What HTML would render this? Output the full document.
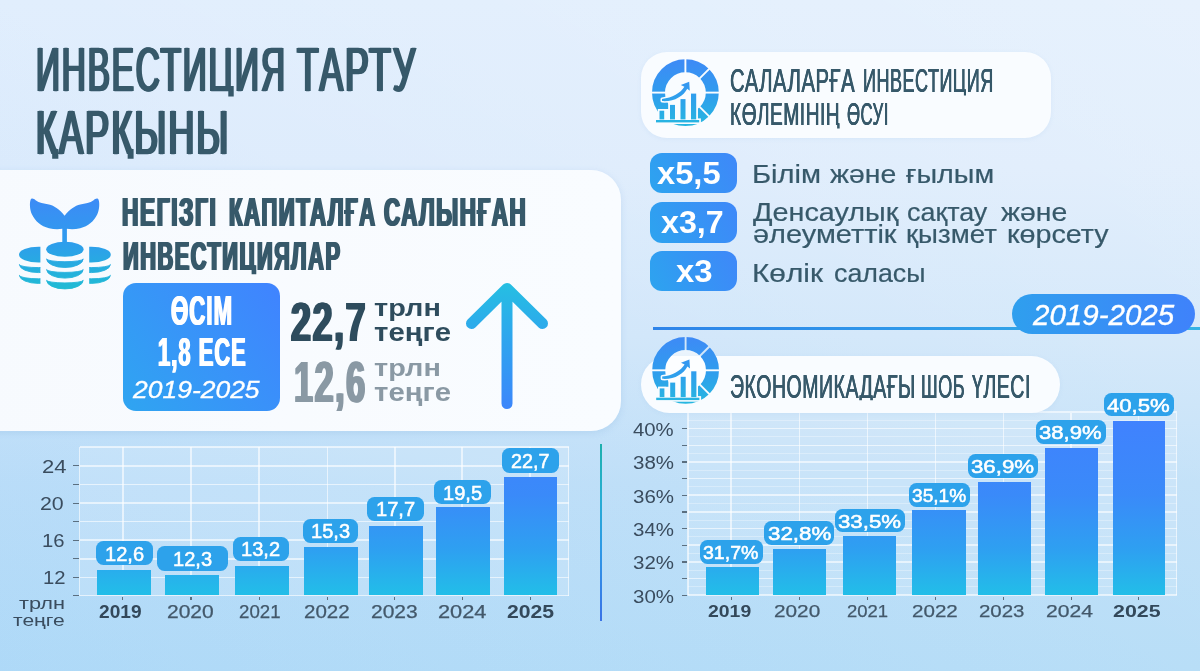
<!DOCTYPE html>
<html><head><meta charset="utf-8"><title>Инвестиция тарту қарқыны</title>
<style>
html,body{margin:0;padding:0}
html{background:#cfe5f9;width:1200px;height:671px;overflow:hidden}
body{width:1200px;height:671px;overflow:hidden;position:relative;font-family:"Liberation Sans",sans-serif;
background:linear-gradient(to top right,rgba(130,195,250,.18) 0%,rgba(130,195,250,0) 50%,rgba(255,255,255,0) 50%,rgba(255,255,255,.2) 100%),linear-gradient(180deg,#e1eefd 0%,#deecfc 25%,#d2e7fa 50%,#c1e0f8 72%,#b8def7 100%);}
.t{position:absolute;white-space:nowrap;line-height:1;transform-origin:0 0;display:block}
.abs{position:absolute}
svg{position:absolute;overflow:visible}
</style></head>
<body>
<span class="t" style="left:35.56px;top:38.10px;font-size:63.37px;letter-spacing:3.6px;-webkit-text-stroke:0.3px #37596a;text-shadow:2.4px 0 0 #37596a,-2.4px 0 0 #37596a;clip-path:inset(-20px -20px 5.07px -20px);color:#37596a;transform:scaleX(0.5248);">ИНВЕСТИЦИЯ</span>
<span class="t" style="left:297.26px;top:38.10px;font-size:63.37px;letter-spacing:3.6px;-webkit-text-stroke:0.3px #37596a;text-shadow:2.4px 0 0 #37596a,-2.4px 0 0 #37596a;clip-path:inset(-20px -20px 5.07px -20px);color:#37596a;transform:scaleX(0.5589);">ТАРТУ</span>
<span class="t" style="left:35.91px;top:102.20px;font-size:62.21px;letter-spacing:3.6px;-webkit-text-stroke:0.3px #37596a;text-shadow:2.4px 0 0 #37596a,-2.4px 0 0 #37596a;clip-path:inset(-20px -20px 5.71px -20px);color:#37596a;transform:scaleX(0.5790);">ҚАРҚЫНЫ</span>
<div class="abs" style="left:-40px;top:170.3px;width:660.5px;height:260.7px;border-radius:30px;background:linear-gradient(90deg,#f7fafe 0%,#f9fcff 100%);box-shadow:0 2px 7px rgba(120,170,220,.22)"></div>
<svg style="left:0;top:0" width="130" height="300" viewBox="0 0 130 300">
<defs>
<linearGradient id="gIcon" gradientUnits="userSpaceOnUse" x1="0" y1="198" x2="0" y2="290"><stop offset="0" stop-color="#3d8bf6"/><stop offset=".45" stop-color="#2f9bee"/><stop offset="1" stop-color="#1fbcd3"/></linearGradient>
<clipPath id="cl"><rect x="0" y="230" width="40.4" height="70"/></clipPath>
<clipPath id="cr"><rect x="89.2" y="230" width="40" height="70"/></clipPath>
</defs>
<path fill="url(#gIcon)" d="M64.6,215.8 C60,209.5 54,205.6 49,204.5 C44,203.4 39,203 35.6,200.2 C34,198.6 31.4,197.6 30.6,199.8 C29.4,203.2 29.8,210 32,214.6 C35,221 41,226.5 49,228.3 C54,229.4 59,229.3 62.3,228.8 L62.3,243 L66.9,243 L66.9,228.8 C70.2,229.3 75.2,229.4 80.2,228.3 C88.2,226.5 94.2,221 97.2,214.6 C99.4,210 99.8,203.2 98.6,199.8 C97.8,197.6 95.2,198.6 93.6,200.2 C90.2,203 85.2,203.4 80.2,204.5 C75.2,205.6 69.2,209.5 64.6,215.8 Z"/>
<g><ellipse cx="64.9" cy="249.3" rx="18.7" ry="7.5" fill="url(#gIcon)"/><path fill="url(#gIcon)" stroke="url(#gIcon)" stroke-width="0.9" stroke-linejoin="round" d="M46.6,258.9 A18.3,2.80 0 0 0 83.2,258.9 A18.3,8.60 0 0 1 46.6,258.9 Z"/><path fill="url(#gIcon)" stroke="url(#gIcon)" stroke-width="0.9" stroke-linejoin="round" d="M46.6,269.5 A18.3,2.90 0 0 0 83.2,269.5 A18.3,8.60 0 0 1 46.6,269.5 Z"/><path fill="url(#gIcon)" stroke="url(#gIcon)" stroke-width="0.9" stroke-linejoin="round" d="M46.6,280.3 A18.3,2.60 0 0 0 83.2,280.3 A18.3,8.60 0 0 1 46.6,280.3 Z"/></g>
<g clip-path="url(#cl)"><ellipse cx="38.5" cy="254.7" rx="19.5" ry="7.9" fill="url(#gIcon)"/><path fill="url(#gIcon)" stroke="url(#gIcon)" stroke-width="0.9" stroke-linejoin="round" d="M19.4,264.5 A19.1,3.10 0 0 0 57.6,264.5 A19.1,8.10 0 0 1 19.4,264.5 Z"/><path fill="url(#gIcon)" stroke="url(#gIcon)" stroke-width="0.9" stroke-linejoin="round" d="M19.4,275.3 A19.1,3.50 0 0 0 57.6,275.3 A19.1,8.10 0 0 1 19.4,275.3 Z"/></g>
<g clip-path="url(#cr)"><ellipse cx="91.3" cy="254.7" rx="19.5" ry="7.9" fill="url(#gIcon)"/><path fill="url(#gIcon)" stroke="url(#gIcon)" stroke-width="0.9" stroke-linejoin="round" d="M72.2,264.5 A19.1,3.10 0 0 0 110.39999999999999,264.5 A19.1,8.10 0 0 1 72.2,264.5 Z"/><path fill="url(#gIcon)" stroke="url(#gIcon)" stroke-width="0.9" stroke-linejoin="round" d="M72.2,275.3 A19.1,3.50 0 0 0 110.39999999999999,275.3 A19.1,8.10 0 0 1 72.2,275.3 Z"/></g>
</svg>
<span class="t" style="left:122.44px;top:192.40px;font-size:40.41px;font-weight:700;letter-spacing:2.8px;text-shadow:1.8px 0 0 #37596a,-1.8px 0 0 #37596a;color:#37596a;transform:scaleX(0.5629);">НЕГІЗГІ</span>
<span class="t" style="left:229.45px;top:192.40px;font-size:40.41px;font-weight:700;letter-spacing:2.8px;text-shadow:1.8px 0 0 #37596a,-1.8px 0 0 #37596a;color:#37596a;transform:scaleX(0.5494);">КАПИТАЛҒА</span>
<span class="t" style="left:384.34px;top:192.40px;font-size:40.41px;font-weight:700;letter-spacing:2.8px;text-shadow:1.8px 0 0 #37596a,-1.8px 0 0 #37596a;color:#37596a;transform:scaleX(0.5536);">САЛЫНҒАН</span>
<span class="t" style="left:122.59px;top:236.50px;font-size:40.26px;font-weight:700;letter-spacing:2.8px;text-shadow:1.8px 0 0 #37596a,-1.8px 0 0 #37596a;clip-path:inset(-20px -20px 2.46px -20px);color:#37596a;transform:scaleX(0.5417);">ИНВЕСТИЦИЯЛАР</span>
<div class="abs" style="left:123.4px;top:282.5px;width:156.8px;height:128px;border-radius:13px;background:linear-gradient(52deg,#2fa5f1 0%,#3894f8 50%,#4083ff 100%)"></div>
<span class="t" style="left:170.74px;top:290.00px;font-size:42.15px;font-weight:700;letter-spacing:2px;text-shadow:1.3px 0 0 #fff,-1.3px 0 0 #fff;color:#fff;transform:scaleX(0.5263);">ӨСІМ</span>
<span class="t" style="left:158.34px;top:332.00px;font-size:41.42px;font-weight:700;letter-spacing:2px;text-shadow:1.3px 0 0 #fff,-1.3px 0 0 #fff;color:#fff;transform:scaleX(0.5281);">1,8 ЕСЕ</span>
<span class="t" style="left:133.27px;top:377.55px;font-size:24.75px;font-style:italic;-webkit-text-stroke:0.35px #fff;color:#fff;transform:scaleX(1.0695);">2019-2025</span>
<span class="t" style="left:290.84px;top:293.80px;font-size:55.9px;font-weight:700;letter-spacing:2.6px;text-shadow:1.8px 0 0 #2e4c5d,-1.8px 0 0 #2e4c5d;color:#2e4c5d;transform:scaleX(0.6393);">22,7</span>
<span class="t" style="left:293.95px;top:355.40px;font-size:56.76px;font-weight:700;letter-spacing:2.6px;text-shadow:1.8px 0 0 #8a99a4,-1.8px 0 0 #8a99a4;color:#8a99a4;transform:scaleX(0.6022);">12,6</span>
<span class="t" style="left:374.12px;top:296.20px;font-size:24.47px;font-weight:700;color:#2e4c5d;transform:scaleX(1.1797);">трлн</span>
<span class="t" style="left:374.12px;top:320.00px;font-size:25.05px;font-weight:700;color:#2e4c5d;transform:scaleX(1.1719);">теңге</span>
<span class="t" style="left:374.12px;top:355.70px;font-size:24.47px;font-weight:700;color:#8a99a4;transform:scaleX(1.1797);">трлн</span>
<span class="t" style="left:374.12px;top:380.00px;font-size:25.05px;font-weight:700;color:#8a99a4;transform:scaleX(1.1719);">теңге</span>
<svg style="left:0;top:0" width="620" height="440" viewBox="0 0 620 440"><defs><linearGradient id="gArr" gradientUnits="userSpaceOnUse" x1="0" y1="283" x2="0" y2="409"><stop offset="0" stop-color="#25bfe2"/><stop offset=".45" stop-color="#2fa5ee"/><stop offset="1" stop-color="#3c86fb"/></linearGradient></defs>
<path d="M507,403.5 L507,289 M471.5,323.5 L507,288.5 L542.5,323.5" fill="none" stroke="url(#gArr)" stroke-width="11" stroke-linecap="round" stroke-linejoin="round"/></svg>
<div class="abs" style="left:79.5px;top:447.2px;width:489.0px;height:148.40000000000003px;background:rgba(255,255,255,.13)"></div><div class="abs" style="left:79.5px;top:446.45px;width:489.0px;height:1.5px;background:rgba(255,255,255,.6)"></div><div class="abs" style="left:79.5px;top:465.05px;width:489.0px;height:1.5px;background:rgba(255,255,255,.6)"></div><div class="abs" style="left:73px;top:465.30px;width:5.5px;height:1.2px;background:#5b6f80"></div><div class="abs" style="left:79.5px;top:483.65px;width:489.0px;height:1.5px;background:rgba(255,255,255,.6)"></div><div class="abs" style="left:73px;top:483.90px;width:5.5px;height:1.2px;background:#5b6f80"></div><div class="abs" style="left:79.5px;top:502.25px;width:489.0px;height:1.5px;background:rgba(255,255,255,.6)"></div><div class="abs" style="left:73px;top:502.50px;width:5.5px;height:1.2px;background:#5b6f80"></div><div class="abs" style="left:79.5px;top:520.85px;width:489.0px;height:1.5px;background:rgba(255,255,255,.6)"></div><div class="abs" style="left:73px;top:521.10px;width:5.5px;height:1.2px;background:#5b6f80"></div><div class="abs" style="left:79.5px;top:539.45px;width:489.0px;height:1.5px;background:rgba(255,255,255,.6)"></div><div class="abs" style="left:73px;top:539.70px;width:5.5px;height:1.2px;background:#5b6f80"></div><div class="abs" style="left:79.5px;top:558.05px;width:489.0px;height:1.5px;background:rgba(255,255,255,.6)"></div><div class="abs" style="left:73px;top:558.30px;width:5.5px;height:1.2px;background:#5b6f80"></div><div class="abs" style="left:79.5px;top:576.65px;width:489.0px;height:1.5px;background:rgba(255,255,255,.6)"></div><div class="abs" style="left:73px;top:576.90px;width:5.5px;height:1.2px;background:#5b6f80"></div><div class="abs" style="left:79.5px;top:594.85px;width:489.0px;height:1.5px;background:rgba(255,255,255,.6)"></div><div class="abs" style="left:73px;top:595.10px;width:5.5px;height:1.2px;background:#5b6f80"></div><div class="abs" style="left:78.75px;top:447.2px;width:1.5px;height:148.40000000000003px;background:rgba(255,255,255,.6)"></div><div class="abs" style="left:122.05px;top:447.2px;width:1.5px;height:148.40000000000003px;background:rgba(255,255,255,.6)"></div><div class="abs" style="left:122.20px;top:596.6px;width:1.2px;height:3.3px;background:#5b6f80"></div><div class="abs" style="left:190.25px;top:447.2px;width:1.5px;height:148.40000000000003px;background:rgba(255,255,255,.6)"></div><div class="abs" style="left:190.40px;top:596.6px;width:1.2px;height:3.3px;background:#5b6f80"></div><div class="abs" style="left:258.45px;top:447.2px;width:1.5px;height:148.40000000000003px;background:rgba(255,255,255,.6)"></div><div class="abs" style="left:258.60px;top:596.6px;width:1.2px;height:3.3px;background:#5b6f80"></div><div class="abs" style="left:326.85px;top:447.2px;width:1.5px;height:148.40000000000003px;background:rgba(255,255,255,.6)"></div><div class="abs" style="left:327.00px;top:596.6px;width:1.2px;height:3.3px;background:#5b6f80"></div><div class="abs" style="left:394.05px;top:447.2px;width:1.5px;height:148.40000000000003px;background:rgba(255,255,255,.6)"></div><div class="abs" style="left:394.20px;top:596.6px;width:1.2px;height:3.3px;background:#5b6f80"></div><div class="abs" style="left:461.45px;top:447.2px;width:1.5px;height:148.40000000000003px;background:rgba(255,255,255,.6)"></div><div class="abs" style="left:461.60px;top:596.6px;width:1.2px;height:3.3px;background:#5b6f80"></div><div class="abs" style="left:529.45px;top:447.2px;width:1.5px;height:148.40000000000003px;background:rgba(255,255,255,.6)"></div><div class="abs" style="left:529.60px;top:596.6px;width:1.2px;height:3.3px;background:#5b6f80"></div><div class="abs" style="left:567.75px;top:447.2px;width:1.5px;height:148.40000000000003px;background:rgba(255,255,255,.6)"></div><div class="abs" style="left:97.3px;top:569.5px;width:54.00px;height:25.90px;background:linear-gradient(to top,#22bee8 0px,#2ea0f1 45px,#3a8af9 100px,#4082fe 175px)"></div><div class="abs" style="left:164.5px;top:574.5px;width:54.00px;height:20.90px;background:linear-gradient(to top,#22bee8 0px,#2ea0f1 45px,#3a8af9 100px,#4082fe 175px)"></div><div class="abs" style="left:234.5px;top:565.8px;width:54.10px;height:29.60px;background:linear-gradient(to top,#22bee8 0px,#2ea0f1 45px,#3a8af9 100px,#4082fe 175px)"></div><div class="abs" style="left:304px;top:547px;width:53.60px;height:48.40px;background:linear-gradient(to top,#22bee8 0px,#2ea0f1 45px,#3a8af9 100px,#4082fe 175px)"></div><div class="abs" style="left:369px;top:525.5px;width:53.60px;height:69.90px;background:linear-gradient(to top,#22bee8 0px,#2ea0f1 45px,#3a8af9 100px,#4082fe 175px)"></div><div class="abs" style="left:436.4px;top:507px;width:53.40px;height:88.40px;background:linear-gradient(to top,#22bee8 0px,#2ea0f1 45px,#3a8af9 100px,#4082fe 175px)"></div><div class="abs" style="left:504.4px;top:477px;width:53.00px;height:118.40px;background:linear-gradient(to top,#22bee8 0px,#2ea0f1 45px,#3a8af9 100px,#4082fe 175px)"></div>
<span class="t" style="left:41.83px;top:457.50px;font-size:18.78px;color:#3a4c5e;transform:scaleX(1.1740);">24</span>
<span class="t" style="left:40.46px;top:494.70px;font-size:18.78px;color:#3a4c5e;transform:scaleX(1.1377);">20</span>
<span class="t" style="left:41.80px;top:531.90px;font-size:18.78px;color:#3a4c5e;transform:scaleX(1.0800);">16</span>
<span class="t" style="left:42.80px;top:569.10px;font-size:18.78px;color:#3a4c5e;transform:scaleX(1.0800);">12</span>
<span class="t" style="left:19.27px;top:595.60px;font-size:16.57px;color:#3a4c5e;transform:scaleX(1.3134);">трлн</span>
<span class="t" style="left:12.90px;top:611.60px;font-size:17.34px;color:#3a4c5e;transform:scaleX(1.2145);">теңге</span>
<div class="abs" style="left:96.2px;top:541px;width:56.60px;height:24.40px;border-radius:7.5px;background:#2da2eb"></div>
<span class="t" style="left:104.68px;top:543.55px;font-size:20.63px;-webkit-text-stroke:0.55px #fff;color:#fff;transform:scaleX(0.9725);">12,6</span>
<div class="abs" style="left:157.3px;top:546.1px;width:70.70px;height:24.50px;border-radius:7.5px;background:#2da2eb"></div>
<span class="t" style="left:172.83px;top:548.65px;font-size:20.63px;-webkit-text-stroke:0.55px #fff;color:#fff;transform:scaleX(0.9725);">12,3</span>
<div class="abs" style="left:232.6px;top:536.9px;width:56.80px;height:24.40px;border-radius:7.5px;background:#2da2eb"></div>
<span class="t" style="left:241.18px;top:539.45px;font-size:20.63px;-webkit-text-stroke:0.55px #fff;color:#fff;transform:scaleX(0.9725);">13,2</span>
<div class="abs" style="left:302.7px;top:518.7px;width:55.80px;height:24.10px;border-radius:7.5px;background:#2da2eb"></div>
<span class="t" style="left:310.78px;top:521.25px;font-size:20.63px;-webkit-text-stroke:0.55px #fff;color:#fff;transform:scaleX(0.9725);">15,3</span>
<div class="abs" style="left:367.3px;top:496.6px;width:57.20px;height:24.60px;border-radius:7.5px;background:#2da2eb"></div>
<span class="t" style="left:376.08px;top:499.15px;font-size:20.63px;-webkit-text-stroke:0.55px #fff;color:#fff;transform:scaleX(0.9725);">17,7</span>
<div class="abs" style="left:434.4px;top:480.4px;width:56.60px;height:24.10px;border-radius:7.5px;background:#2da2eb"></div>
<span class="t" style="left:442.88px;top:482.95px;font-size:20.63px;-webkit-text-stroke:0.55px #fff;color:#fff;transform:scaleX(0.9725);">19,5</span>
<div class="abs" style="left:502.4px;top:448.4px;width:56.60px;height:24.60px;border-radius:7.5px;background:#2da2eb"></div>
<span class="t" style="left:511.38px;top:450.95px;font-size:20.63px;-webkit-text-stroke:0.55px #fff;color:#fff;transform:scaleX(0.9600);">22,7</span>
<span class="t" style="left:99.45px;top:603.60px;font-size:17.5px;font-weight:700;color:#33485a;transform:scaleX(1.0940);">2019</span>
<span class="t" style="left:166.60px;top:603.60px;font-size:17.5px;-webkit-text-stroke:0.25px #43586a;color:#43586a;transform:scaleX(1.2000);">2020</span>
<span class="t" style="left:239.20px;top:603.60px;font-size:17.5px;-webkit-text-stroke:0.25px #43586a;color:#43586a;transform:scaleX(1.0667);">2021</span>
<span class="t" style="left:304.12px;top:603.60px;font-size:17.5px;-webkit-text-stroke:0.25px #43586a;color:#43586a;transform:scaleX(1.1733);">2022</span>
<span class="t" style="left:371.10px;top:603.60px;font-size:17.5px;-webkit-text-stroke:0.25px #43586a;color:#43586a;transform:scaleX(1.2000);">2023</span>
<span class="t" style="left:438.07px;top:603.60px;font-size:17.5px;-webkit-text-stroke:0.25px #43586a;color:#43586a;transform:scaleX(1.2450);">2024</span>
<span class="t" style="left:507.39px;top:603.60px;font-size:17.5px;font-weight:700;color:#33485a;transform:scaleX(1.2105);">2025</span>
<div class="abs" style="left:600.1px;top:444px;width:2px;height:177px;background:linear-gradient(180deg,#1eb0ad 0%,#27aed2 30%,#2e98e6 60%,#3b72e6 100%)"></div>
<div class="abs" style="left:641px;top:51.5px;width:410px;height:86px;border-radius:26px;background:#f9fcff;box-shadow:0 1px 4px rgba(150,190,230,.15)"></div>
<svg style="left:0;top:0" width="1200" height="671" viewBox="0 0 1200 671"><defs><linearGradient id="gDa" gradientUnits="userSpaceOnUse" x1="0" y1="59.199999999999996" x2="0" y2="126.0"><stop offset="0" stop-color="#3e8af6"/><stop offset=".5" stop-color="#309cee"/><stop offset="1" stop-color="#27b7e0"/></linearGradient><mask id="mDa" maskUnits="userSpaceOnUse" x="645.4" y="52.599999999999994" width="80" height="80"><rect x="645.4" y="52.599999999999994" width="80" height="80" fill="#fff"/><line x1="685.40" y1="74.20" x2="685.40" y2="57.20" stroke="#000" stroke-width="1.9"/><line x1="698.41" y1="79.59" x2="710.43" y2="67.57" stroke="#000" stroke-width="1.9"/><line x1="703.80" y1="92.60" x2="720.80" y2="92.60" stroke="#000" stroke-width="1.9"/><line x1="698.41" y1="105.61" x2="710.43" y2="117.63" stroke="#000" stroke-width="1.9"/><line x1="667.00" y1="92.60" x2="650.00" y2="92.60" stroke="#000" stroke-width="1.9"/><rect x="657.90" y="109.10" width="7.90" height="11.90" fill="#000"/><rect x="668.40" y="103.30" width="8.20" height="17.70" fill="#000"/><rect x="678.90" y="97.50" width="8.20" height="23.50" fill="#000"/><rect x="689.40" y="92.00" width="8.40" height="29.00" fill="#000"/><rect x="654.40" y="118.40" width="46.5" height="5.6" fill="#000"/><polygon fill="#000" points="657.90,121.40 657.90,109.10 668.40,109.10 668.40,103.30 678.90,103.30 678.90,97.50 689.40,97.50 689.40,92.00 697.80,92.00 697.80,121.40"/><path d="M662.00,98.90 C672.40,98.00 680.40,93.10 684.40,86.80 L680.80,85.00 L689.20,81.80 L689.80,90.80 L687.20,88.70 C683.40,96.20 673.90,102.00 662.00,101.10 Z" fill="#000" stroke="#000" stroke-width="3" stroke-linejoin="round"/></mask></defs><circle cx="685.4" cy="92.6" r="26.9" fill="none" stroke="url(#gDa)" stroke-width="13.0" mask="url(#mDa)"/><rect x="659.50" y="110.70" width="4.70" height="8.70" fill="url(#gDa)"/><rect x="670.00" y="104.90" width="5.00" height="14.50" fill="url(#gDa)"/><rect x="680.50" y="99.10" width="5.00" height="20.30" fill="url(#gDa)"/><rect x="691.00" y="93.60" width="5.20" height="25.80" fill="url(#gDa)"/><rect x="656.00" y="120.00" width="43.2" height="2.4" fill="url(#gDa)"/><path d="M662.00,98.90 C672.40,98.00 680.40,93.10 684.40,86.80 L680.80,85.00 L689.20,81.80 L689.80,90.80 L687.20,88.70 C683.40,96.20 673.90,102.00 662.00,101.10 Z" fill="url(#gDa)"/></svg>
<span class="t" style="left:730.42px;top:64.90px;font-size:32.56px;letter-spacing:0.9px;-webkit-text-stroke:0.2px #37596a;text-shadow:0.45px 0 0 #37596a,-0.45px 0 0 #37596a;clip-path:inset(-20px -20px 2.06px -20px);color:#37596a;transform:scaleX(0.6221);">САЛАЛАРҒА</span>
<span class="t" style="left:862.95px;top:64.90px;font-size:32.56px;letter-spacing:0.9px;-webkit-text-stroke:0.2px #37596a;text-shadow:0.45px 0 0 #37596a,-0.45px 0 0 #37596a;clip-path:inset(-20px -20px 2.06px -20px);color:#37596a;transform:scaleX(0.5536);">ИНВЕСТИЦИЯ</span>
<span class="t" style="left:729.87px;top:98.00px;font-size:32.27px;letter-spacing:0.9px;-webkit-text-stroke:0.2px #37596a;text-shadow:0.45px 0 0 #37596a,-0.45px 0 0 #37596a;clip-path:inset(-20px -20px 1.77px -20px);color:#37596a;transform:scaleX(0.5918);">КӨЛЕМІНІҢ</span>
<span class="t" style="left:846.68px;top:98.00px;font-size:32.27px;letter-spacing:0.9px;-webkit-text-stroke:0.2px #37596a;text-shadow:0.45px 0 0 #37596a,-0.45px 0 0 #37596a;clip-path:inset(-20px -20px 1.77px -20px);color:#37596a;transform:scaleX(0.5211);">ӨСУІ</span>
<div class="abs" style="left:650px;top:153px;width:87px;height:40px;border-radius:12px;background:linear-gradient(65deg,#2da4ef 0%,#3595f4 50%,#3f88f9 100%)"></div>
<span class="t" style="left:657.24px;top:158.30px;font-size:31.01px;font-weight:700;color:#fff;transform:scaleX(1.0549);">x5,5</span>
<div class="abs" style="left:650px;top:202px;width:87px;height:40.5px;border-radius:12px;background:linear-gradient(65deg,#2da4ef 0%,#3595f4 50%,#3f88f9 100%)"></div>
<span class="t" style="left:661.24px;top:207.30px;font-size:31.01px;font-weight:700;color:#fff;transform:scaleX(1.0383);">x3,7</span>
<div class="abs" style="left:650px;top:250.5px;width:87px;height:40.5px;border-radius:12px;background:linear-gradient(65deg,#2da4ef 0%,#3595f4 50%,#3f88f9 100%)"></div>
<span class="t" style="left:675.73px;top:255.80px;font-size:31.01px;font-weight:700;color:#fff;transform:scaleX(1.0606);">x3</span>
<span class="t" style="left:751.95px;top:161.60px;font-size:25.9px;-webkit-text-stroke:0.2px #37596a;color:#37596a;transform:scaleX(1.1255);">Білім</span>
<span class="t" style="left:830.20px;top:161.60px;font-size:25.9px;-webkit-text-stroke:0.2px #37596a;color:#37596a;transform:scaleX(1.0970);">және</span>
<span class="t" style="left:905.92px;top:161.60px;font-size:25.9px;-webkit-text-stroke:0.2px #37596a;color:#37596a;transform:scaleX(1.1087);">ғылым</span>
<span class="t" style="left:752.70px;top:200.20px;font-size:25.9px;-webkit-text-stroke:0.2px #37596a;color:#37596a;transform:scaleX(1.1115);">Денсаулық</span>
<span class="t" style="left:906.76px;top:200.20px;font-size:25.9px;-webkit-text-stroke:0.2px #37596a;color:#37596a;transform:scaleX(1.0387);">сақтау</span>
<span class="t" style="left:1001.20px;top:200.20px;font-size:25.9px;-webkit-text-stroke:0.2px #37596a;color:#37596a;transform:scaleX(1.0970);">және</span>
<span class="t" style="left:753.08px;top:221.60px;font-size:25.9px;-webkit-text-stroke:0.2px #37596a;color:#37596a;transform:scaleX(1.1176);">әлеуметтік</span>
<span class="t" style="left:905.93px;top:221.60px;font-size:25.9px;-webkit-text-stroke:0.2px #37596a;color:#37596a;transform:scaleX(1.0687);">қызмет</span>
<span class="t" style="left:1007.26px;top:221.60px;font-size:25.9px;-webkit-text-stroke:0.2px #37596a;color:#37596a;transform:scaleX(1.1078);">көрсету</span>
<span class="t" style="left:751.90px;top:260.70px;font-size:25.9px;-webkit-text-stroke:0.2px #37596a;color:#37596a;transform:scaleX(1.1515);">Көлік</span>
<span class="t" style="left:833.97px;top:260.70px;font-size:25.9px;-webkit-text-stroke:0.2px #37596a;color:#37596a;transform:scaleX(1.0344);">саласы</span>
<div class="abs" style="left:652.5px;top:327.3px;width:548px;height:2.5px;background:linear-gradient(90deg,#2f84e9 0%,#2f98ea 45%,#36b3e4 100%)"></div>
<div class="abs" style="left:1011.7px;top:293.7px;width:183.5px;height:40px;border-radius:20px;background:linear-gradient(90deg,#2f9fee 0%,#3f82fb 100%)"></div>
<span class="t" style="left:1032.96px;top:301.05px;font-size:28.59px;font-style:italic;-webkit-text-stroke:0.35px #fff;color:#fff;transform:scaleX(1.0332);">2019-2025</span>
<div class="abs" style="left:688px;top:412.7px;width:488.70000000000005px;height:182.7px;background:rgba(255,255,255,.13)"></div><div class="abs" style="left:688px;top:586.37px;width:488.70000000000005px;height:1px;background:rgba(255,255,255,.3)"></div><div class="abs" style="left:688px;top:569.71px;width:488.70000000000005px;height:1px;background:rgba(255,255,255,.3)"></div><div class="abs" style="left:688px;top:553.05px;width:488.70000000000005px;height:1px;background:rgba(255,255,255,.3)"></div><div class="abs" style="left:688px;top:536.39px;width:488.70000000000005px;height:1px;background:rgba(255,255,255,.3)"></div><div class="abs" style="left:688px;top:519.73px;width:488.70000000000005px;height:1px;background:rgba(255,255,255,.3)"></div><div class="abs" style="left:688px;top:503.07px;width:488.70000000000005px;height:1px;background:rgba(255,255,255,.3)"></div><div class="abs" style="left:688px;top:486.41px;width:488.70000000000005px;height:1px;background:rgba(255,255,255,.3)"></div><div class="abs" style="left:688px;top:469.75px;width:488.70000000000005px;height:1px;background:rgba(255,255,255,.3)"></div><div class="abs" style="left:688px;top:453.09px;width:488.70000000000005px;height:1px;background:rgba(255,255,255,.3)"></div><div class="abs" style="left:688px;top:436.43px;width:488.70000000000005px;height:1px;background:rgba(255,255,255,.3)"></div><div class="abs" style="left:688px;top:419.77px;width:488.70000000000005px;height:1px;background:rgba(255,255,255,.3)"></div><div class="abs" style="left:688px;top:594.45px;width:488.70000000000005px;height:1.5px;background:rgba(255,255,255,.6)"></div><div class="abs" style="left:682.3px;top:594.70px;width:4.7000000000000455px;height:1.2px;background:#5b6f80"></div><div class="abs" style="left:688px;top:577.79px;width:488.70000000000005px;height:1.5px;background:rgba(255,255,255,.6)"></div><div class="abs" style="left:682.3px;top:578.04px;width:4.7000000000000455px;height:1.2px;background:#5b6f80"></div><div class="abs" style="left:688px;top:561.13px;width:488.70000000000005px;height:1.5px;background:rgba(255,255,255,.6)"></div><div class="abs" style="left:682.3px;top:561.38px;width:4.7000000000000455px;height:1.2px;background:#5b6f80"></div><div class="abs" style="left:688px;top:544.47px;width:488.70000000000005px;height:1.5px;background:rgba(255,255,255,.6)"></div><div class="abs" style="left:682.3px;top:544.72px;width:4.7000000000000455px;height:1.2px;background:#5b6f80"></div><div class="abs" style="left:688px;top:527.81px;width:488.70000000000005px;height:1.5px;background:rgba(255,255,255,.6)"></div><div class="abs" style="left:682.3px;top:528.06px;width:4.7000000000000455px;height:1.2px;background:#5b6f80"></div><div class="abs" style="left:688px;top:511.15px;width:488.70000000000005px;height:1.5px;background:rgba(255,255,255,.6)"></div><div class="abs" style="left:682.3px;top:511.40px;width:4.7000000000000455px;height:1.2px;background:#5b6f80"></div><div class="abs" style="left:688px;top:494.49px;width:488.70000000000005px;height:1.5px;background:rgba(255,255,255,.6)"></div><div class="abs" style="left:682.3px;top:494.74px;width:4.7000000000000455px;height:1.2px;background:#5b6f80"></div><div class="abs" style="left:688px;top:477.83px;width:488.70000000000005px;height:1.5px;background:rgba(255,255,255,.6)"></div><div class="abs" style="left:682.3px;top:478.08px;width:4.7000000000000455px;height:1.2px;background:#5b6f80"></div><div class="abs" style="left:688px;top:461.17px;width:488.70000000000005px;height:1.5px;background:rgba(255,255,255,.6)"></div><div class="abs" style="left:682.3px;top:461.42px;width:4.7000000000000455px;height:1.2px;background:#5b6f80"></div><div class="abs" style="left:688px;top:444.51px;width:488.70000000000005px;height:1.5px;background:rgba(255,255,255,.6)"></div><div class="abs" style="left:682.3px;top:444.76px;width:4.7000000000000455px;height:1.2px;background:#5b6f80"></div><div class="abs" style="left:688px;top:427.85px;width:488.70000000000005px;height:1.5px;background:rgba(255,255,255,.6)"></div><div class="abs" style="left:682.3px;top:428.10px;width:4.7000000000000455px;height:1.2px;background:#5b6f80"></div><div class="abs" style="left:688px;top:411.19px;width:488.70000000000005px;height:1.5px;background:rgba(255,255,255,.6)"></div><div class="abs" style="left:687.25px;top:412.7px;width:1.5px;height:182.7px;background:rgba(255,255,255,.6)"></div><div class="abs" style="left:730.45px;top:412.7px;width:1.5px;height:182.7px;background:rgba(255,255,255,.6)"></div><div class="abs" style="left:730.60px;top:596.5px;width:1.2px;height:3.3px;background:#5b6f80"></div><div class="abs" style="left:798.75px;top:412.7px;width:1.5px;height:182.7px;background:rgba(255,255,255,.6)"></div><div class="abs" style="left:798.90px;top:596.5px;width:1.2px;height:3.3px;background:#5b6f80"></div><div class="abs" style="left:866.75px;top:412.7px;width:1.5px;height:182.7px;background:rgba(255,255,255,.6)"></div><div class="abs" style="left:866.90px;top:596.5px;width:1.2px;height:3.3px;background:#5b6f80"></div><div class="abs" style="left:934.75px;top:412.7px;width:1.5px;height:182.7px;background:rgba(255,255,255,.6)"></div><div class="abs" style="left:934.90px;top:596.5px;width:1.2px;height:3.3px;background:#5b6f80"></div><div class="abs" style="left:1002.75px;top:412.7px;width:1.5px;height:182.7px;background:rgba(255,255,255,.6)"></div><div class="abs" style="left:1002.90px;top:596.5px;width:1.2px;height:3.3px;background:#5b6f80"></div><div class="abs" style="left:1070.45px;top:412.7px;width:1.5px;height:182.7px;background:rgba(255,255,255,.6)"></div><div class="abs" style="left:1070.60px;top:596.5px;width:1.2px;height:3.3px;background:#5b6f80"></div><div class="abs" style="left:1137.95px;top:412.7px;width:1.5px;height:182.7px;background:rgba(255,255,255,.6)"></div><div class="abs" style="left:1138.10px;top:596.5px;width:1.2px;height:3.3px;background:#5b6f80"></div><div class="abs" style="left:1175.95px;top:412.7px;width:1.5px;height:182.7px;background:rgba(255,255,255,.6)"></div><div class="abs" style="left:705.7px;top:567px;width:53.60px;height:28.30px;background:linear-gradient(to top,#22bee8 0px,#2ea0f1 45px,#3a8af9 100px,#4082fe 175px)"></div><div class="abs" style="left:772.5px;top:548.8px;width:53.70px;height:46.50px;background:linear-gradient(to top,#22bee8 0px,#2ea0f1 45px,#3a8af9 100px,#4082fe 175px)"></div><div class="abs" style="left:843px;top:536.3px;width:53.30px;height:59.00px;background:linear-gradient(to top,#22bee8 0px,#2ea0f1 45px,#3a8af9 100px,#4082fe 175px)"></div><div class="abs" style="left:912px;top:510px;width:53.70px;height:85.30px;background:linear-gradient(to top,#22bee8 0px,#2ea0f1 45px,#3a8af9 100px,#4082fe 175px)"></div><div class="abs" style="left:978px;top:482px;width:52.50px;height:113.30px;background:linear-gradient(to top,#22bee8 0px,#2ea0f1 45px,#3a8af9 100px,#4082fe 175px)"></div><div class="abs" style="left:1044.5px;top:448px;width:53.50px;height:147.30px;background:linear-gradient(to top,#22bee8 0px,#2ea0f1 45px,#3a8af9 100px,#4082fe 175px)"></div><div class="abs" style="left:1112.5px;top:420.8px;width:52.50px;height:174.50px;background:linear-gradient(to top,#22bee8 0px,#2ea0f1 45px,#3a8af9 100px,#4082fe 175px)"></div>
<span class="t" style="left:632.67px;top:587.60px;font-size:18.49px;color:#3a4c5e;transform:scaleX(1.1070);">30%</span>
<span class="t" style="left:632.67px;top:554.28px;font-size:18.49px;color:#3a4c5e;transform:scaleX(1.1070);">32%</span>
<span class="t" style="left:632.67px;top:520.96px;font-size:18.49px;color:#3a4c5e;transform:scaleX(1.1070);">34%</span>
<span class="t" style="left:632.67px;top:487.64px;font-size:18.49px;color:#3a4c5e;transform:scaleX(1.1070);">36%</span>
<span class="t" style="left:632.67px;top:454.32px;font-size:18.49px;color:#3a4c5e;transform:scaleX(1.1070);">38%</span>
<span class="t" style="left:632.95px;top:421.00px;font-size:18.49px;color:#3a4c5e;transform:scaleX(1.0993);">40%</span>
<div class="abs" style="left:700px;top:539.5px;width:62.50px;height:24.30px;border-radius:7.5px;background:#2da2eb"></div>
<span class="t" style="left:703.49px;top:542.65px;font-size:19.2px;-webkit-text-stroke:0.55px #fff;color:#fff;transform:scaleX(1.0187);">31,7%</span>
<div class="abs" style="left:764.2px;top:521.2px;width:70.30px;height:23.80px;border-radius:7.5px;background:#2da2eb"></div>
<span class="t" style="left:767.62px;top:524.35px;font-size:19.2px;-webkit-text-stroke:0.55px #fff;color:#fff;transform:scaleX(1.1645);">32,8%</span>
<div class="abs" style="left:835px;top:508.7px;width:70.00px;height:23.80px;border-radius:7.5px;background:#2da2eb"></div>
<span class="t" style="left:838.42px;top:511.85px;font-size:19.2px;-webkit-text-stroke:0.55px #fff;color:#fff;transform:scaleX(1.1589);">33,5%</span>
<div class="abs" style="left:908.7px;top:482.5px;width:61.30px;height:24.30px;border-radius:7.5px;background:#2da2eb"></div>
<span class="t" style="left:912.20px;top:485.65px;font-size:19.2px;-webkit-text-stroke:0.55px #fff;color:#fff;transform:scaleX(0.9963);">35,1%</span>
<div class="abs" style="left:967.5px;top:453.7px;width:70.00px;height:24.30px;border-radius:7.5px;background:#2da2eb"></div>
<span class="t" style="left:970.92px;top:456.85px;font-size:19.2px;-webkit-text-stroke:0.55px #fff;color:#fff;transform:scaleX(1.1589);">36,9%</span>
<div class="abs" style="left:1036px;top:420px;width:69.50px;height:23.50px;border-radius:7.5px;background:#2da2eb"></div>
<span class="t" style="left:1039.43px;top:423.15px;font-size:19.2px;-webkit-text-stroke:0.55px #fff;color:#fff;transform:scaleX(1.1495);">38,9%</span>
<div class="abs" style="left:1103.7px;top:392.5px;width:70.00px;height:23.80px;border-radius:7.5px;background:#2da2eb"></div>
<span class="t" style="left:1107.41px;top:395.65px;font-size:19.2px;-webkit-text-stroke:0.55px #fff;color:#fff;transform:scaleX(1.1535);">40,5%</span>
<span class="t" style="left:707.64px;top:602.50px;font-size:17.21px;font-weight:700;color:#33485a;transform:scaleX(1.1297);">2019</span>
<span class="t" style="left:773.59px;top:602.50px;font-size:17.21px;-webkit-text-stroke:0.25px #43586a;color:#43586a;transform:scaleX(1.2081);">2020</span>
<span class="t" style="left:847.19px;top:602.50px;font-size:17.21px;-webkit-text-stroke:0.25px #43586a;color:#43586a;transform:scaleX(1.0748);">2021</span>
<span class="t" style="left:912.10px;top:602.50px;font-size:17.21px;-webkit-text-stroke:0.25px #43586a;color:#43586a;transform:scaleX(1.1973);">2022</span>
<span class="t" style="left:979.11px;top:602.50px;font-size:17.21px;-webkit-text-stroke:0.25px #43586a;color:#43586a;transform:scaleX(1.1891);">2023</span>
<span class="t" style="left:1046.08px;top:602.50px;font-size:17.21px;-webkit-text-stroke:0.25px #43586a;color:#43586a;transform:scaleX(1.2297);">2024</span>
<span class="t" style="left:1113.08px;top:602.50px;font-size:17.21px;font-weight:700;color:#33485a;transform:scaleX(1.2430);">2025</span>
<div class="abs" style="left:641px;top:356px;width:419px;height:57px;border-radius:28.5px;background:#f9fcff;box-shadow:0 1px 4px rgba(150,190,230,.15)"></div>
<svg style="left:0;top:0" width="1200" height="671" viewBox="0 0 1200 671"><defs><linearGradient id="gDb" gradientUnits="userSpaceOnUse" x1="0" y1="336.90000000000003" x2="0" y2="403.7"><stop offset="0" stop-color="#3e8af6"/><stop offset=".5" stop-color="#309cee"/><stop offset="1" stop-color="#27b7e0"/></linearGradient><mask id="mDb" maskUnits="userSpaceOnUse" x="645.6" y="330.3" width="80" height="80"><rect x="645.6" y="330.3" width="80" height="80" fill="#fff"/><line x1="685.60" y1="351.90" x2="685.60" y2="334.90" stroke="#000" stroke-width="1.9"/><line x1="698.61" y1="357.29" x2="710.63" y2="345.27" stroke="#000" stroke-width="1.9"/><line x1="704.00" y1="370.30" x2="721.00" y2="370.30" stroke="#000" stroke-width="1.9"/><line x1="698.61" y1="383.31" x2="710.63" y2="395.33" stroke="#000" stroke-width="1.9"/><line x1="667.20" y1="370.30" x2="650.20" y2="370.30" stroke="#000" stroke-width="1.9"/><rect x="658.10" y="386.80" width="7.90" height="11.90" fill="#000"/><rect x="668.60" y="381.00" width="8.20" height="17.70" fill="#000"/><rect x="679.10" y="375.20" width="8.20" height="23.50" fill="#000"/><rect x="689.60" y="369.70" width="8.40" height="29.00" fill="#000"/><rect x="654.60" y="396.10" width="46.5" height="5.6" fill="#000"/><polygon fill="#000" points="658.10,399.10 658.10,386.80 668.60,386.80 668.60,381.00 679.10,381.00 679.10,375.20 689.60,375.20 689.60,369.70 698.00,369.70 698.00,399.10"/><path d="M662.20,376.60 C672.60,375.70 680.60,370.80 684.60,364.50 L681.00,362.70 L689.40,359.50 L690.00,368.50 L687.40,366.40 C683.60,373.90 674.10,379.70 662.20,378.80 Z" fill="#000" stroke="#000" stroke-width="3" stroke-linejoin="round"/></mask></defs><circle cx="685.6" cy="370.3" r="20.9" fill="rgba(255,255,255,.55)"/><circle cx="685.6" cy="370.3" r="26.9" fill="none" stroke="url(#gDb)" stroke-width="13.0" mask="url(#mDb)"/><rect x="659.70" y="388.40" width="4.70" height="8.70" fill="url(#gDb)"/><rect x="670.20" y="382.60" width="5.00" height="14.50" fill="url(#gDb)"/><rect x="680.70" y="376.80" width="5.00" height="20.30" fill="url(#gDb)"/><rect x="691.20" y="371.30" width="5.20" height="25.80" fill="url(#gDb)"/><rect x="656.20" y="397.70" width="43.2" height="2.4" fill="url(#gDb)"/><path d="M662.20,376.60 C672.60,375.70 680.60,370.80 684.60,364.50 L681.00,362.70 L689.40,359.50 L690.00,368.50 L687.40,366.40 C683.60,373.90 674.10,379.70 662.20,378.80 Z" fill="url(#gDb)"/></svg>
<span class="t" style="left:730.14px;top:369.70px;font-size:33.87px;letter-spacing:0.9px;-webkit-text-stroke:0.2px #37596a;text-shadow:0.45px 0 0 #37596a,-0.45px 0 0 #37596a;clip-path:inset(-20px -20px 3.37px -20px);color:#37596a;transform:scaleX(0.5764);">ЭКОНОМИКАДАҒЫ</span>
<span class="t" style="left:920.59px;top:369.70px;font-size:33.87px;letter-spacing:0.9px;-webkit-text-stroke:0.2px #37596a;text-shadow:0.45px 0 0 #37596a,-0.45px 0 0 #37596a;clip-path:inset(-20px -20px 3.37px -20px);color:#37596a;transform:scaleX(0.5363);">ШОБ</span>
<span class="t" style="left:972.30px;top:369.70px;font-size:33.87px;letter-spacing:0.9px;-webkit-text-stroke:0.2px #37596a;text-shadow:0.45px 0 0 #37596a,-0.45px 0 0 #37596a;clip-path:inset(-20px -20px 3.37px -20px);color:#37596a;transform:scaleX(0.5777);">ҮЛЕСІ</span>
</body></html>
